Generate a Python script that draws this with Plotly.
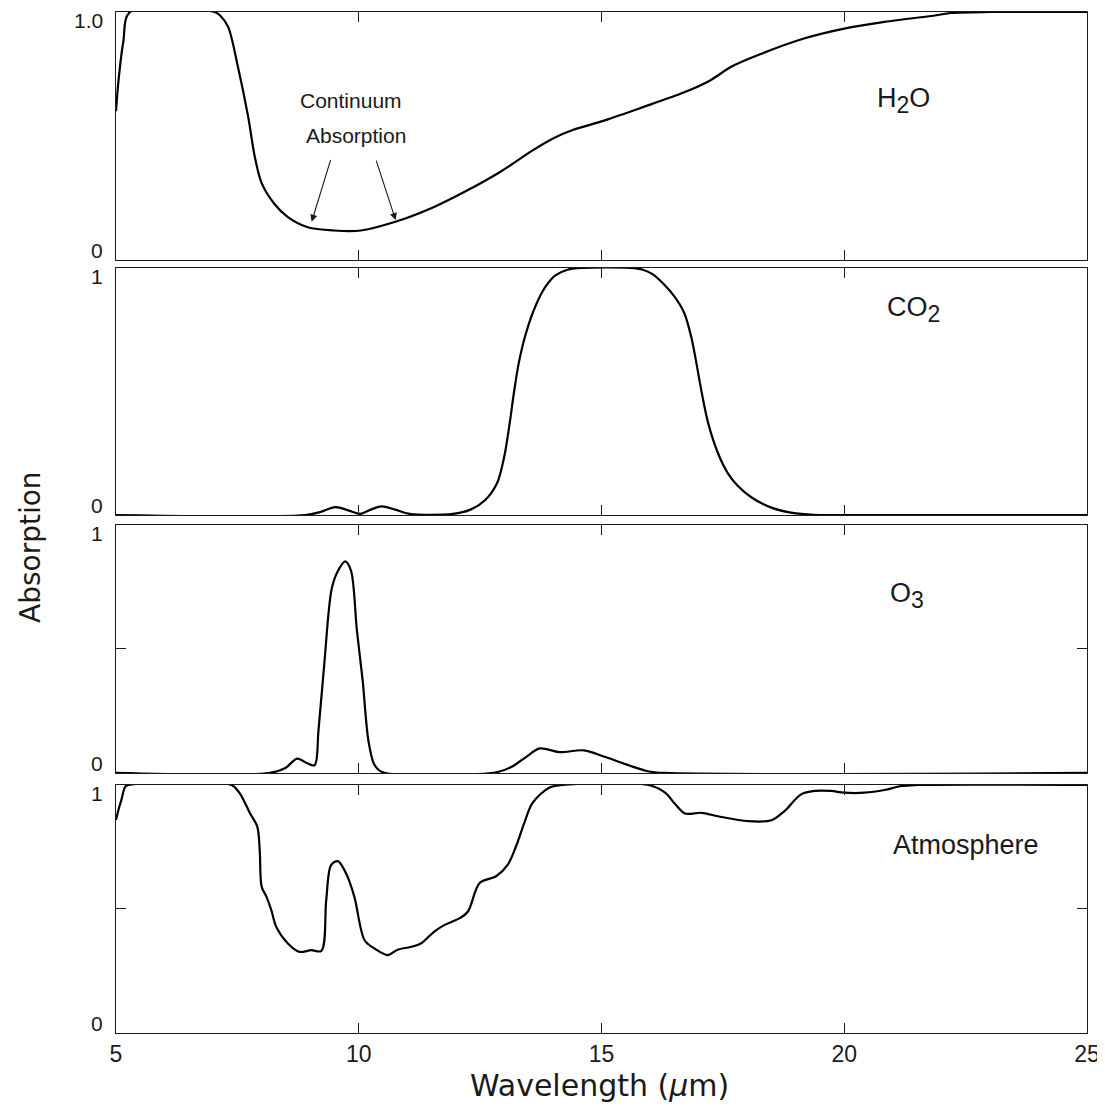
import plotly.graph_objects as go

# ---------------- data ----------------
h2o_x = [5.0, 5.05, 5.15, 5.29, 7.03, 7.15, 7.31, 7.51, 7.72, 7.86, 8.0, 8.26, 8.54, 8.95,
         9.49, 10.04, 10.72, 11.54, 12.23, 12.91, 13.59, 14.0, 14.42, 15.0, 15.79, 16.65,
         17.2, 17.7, 18.31, 19.17, 20.0, 20.83, 21.9, 22.2, 23.0, 25.0]
h2o_y = [0.60, 0.72, 0.88, 1.0, 1.0, 0.985, 0.94, 0.78, 0.58, 0.415, 0.31, 0.227, 0.173, 0.132,
         0.119, 0.119, 0.152, 0.213, 0.28, 0.355, 0.443, 0.49, 0.525, 0.559, 0.612, 0.672,
         0.72, 0.782, 0.833, 0.893, 0.933, 0.96, 0.987, 0.996, 1.0, 1.0]

co2_x = [5.0, 8.9, 9.2, 9.52, 9.8, 10.03, 10.25, 10.47, 10.75, 11.05, 11.94, 12.3, 12.6, 12.85,
         13.0, 13.1, 13.2, 13.3, 13.45, 13.65, 13.85, 14.05, 14.3, 14.6, 15.6, 15.85, 16.05,
         16.28, 16.5, 16.7, 16.85, 16.95, 17.06, 17.2, 17.4, 17.6, 17.8, 18.1, 18.5, 18.9,
         19.3, 19.6, 25.0]
co2_y = [0.0, 0.0, 0.012, 0.032, 0.018, 0.005, 0.022, 0.035, 0.022, 0.005, 0.005, 0.022, 0.06, 0.13,
         0.24, 0.36, 0.5, 0.62, 0.74, 0.85, 0.925, 0.97, 0.993, 1.0, 1.0, 0.993, 0.975,
         0.935, 0.885, 0.82, 0.72, 0.62, 0.5, 0.37, 0.25, 0.17, 0.12, 0.07, 0.03, 0.01,
         0.002, 0.0, 0.0]

o3_x = [5.0, 8.17, 8.49, 8.73, 8.93, 9.09, 9.17, 9.29, 9.44, 9.56, 9.72, 9.84, 9.96, 10.08,
        10.2, 10.32, 10.48, 12.86, 13.17, 13.45, 13.73, 14.13, 14.64, 15.08, 15.56, 15.95, 16.3, 25.0]
o3_y = [0.0, 0.0, 0.02, 0.058, 0.04, 0.031, 0.17, 0.44, 0.74, 0.81, 0.853, 0.816, 0.578, 0.374,
        0.129, 0.034, 0.004, 0.004, 0.027, 0.065, 0.099, 0.084, 0.091, 0.064, 0.031, 0.007, 0.0, 0.0]

atm_x = [5.0, 5.05, 5.11, 5.19, 5.26, 7.38, 7.55, 7.76, 7.91, 7.96, 8.0, 8.1, 8.2, 8.3, 8.54,
         8.78, 9.02, 9.23, 9.33, 9.43, 9.57, 9.74, 9.91, 10.12, 10.32, 10.6, 10.8, 11.07, 11.28,
         11.55, 11.76, 12.08, 12.25, 12.49, 12.83, 13.07, 13.24, 13.41, 13.58, 13.92, 14.19,
         15.97, 16.31, 16.52, 16.72, 17.06, 17.4, 18.02, 18.5, 18.77, 19.11, 19.39, 19.73, 20.0,
         20.42, 20.83, 21.18, 21.5, 25.0]
atm_y = [0.859, 0.899, 0.939, 0.993, 1.0, 1.0, 0.966, 0.886, 0.832, 0.738, 0.59, 0.549, 0.495,
         0.428, 0.361, 0.327, 0.334, 0.331, 0.536, 0.677, 0.693, 0.643, 0.549, 0.374, 0.341,
         0.314, 0.336, 0.347, 0.361, 0.408, 0.435, 0.463, 0.49, 0.605, 0.632, 0.679, 0.753,
         0.847, 0.928, 0.989, 1.0, 1.0, 0.969, 0.922, 0.885, 0.888, 0.874, 0.854, 0.858, 0.895,
         0.962, 0.976, 0.976, 0.969, 0.969, 0.98, 0.996, 1.0, 1.0]

SUB = "<sub><span style='font-size:23px'>{}</span></sub>"
panel_names = ["H" + SUB.format("2") + "O", "CO" + SUB.format("2"),
               "O" + SUB.format("3"), "Atmosphere"]
panel_label_pos = [(21.22, 0.645), (21.42, 0.83), (21.3, 0.714), (22.5, 0.758)]
top_tick_text = ["1.0", "1", "1", "1"]
x_tick_vals = [5, 10, 15, 20, 25]
x_tick_text = ["5", "10", "15", "20", "25"]

# ---------------- figure ----------------
FONT = "Liberation Sans"
TITLE_FONT = "DejaVu Sans"
INK = "#1a1a1a"
fig = go.Figure()

series = [(h2o_x, h2o_y), (co2_x, co2_y), (o3_x, o3_y), (atm_x, atm_y)]
domains = [[0.7571, 1.0], [0.5073, 0.7493], [0.2547, 0.4976], [0.0, 0.2429]]
mid_ticks = [[], [], [0.5], [0.5]]

for i, (xs, ys) in enumerate(series):
    n = "" if i == 0 else str(i + 1)
    fig.add_trace(go.Scatter(x=xs, y=ys, mode="lines",
                             line=dict(color="black", width=2.2, shape="spline", smoothing=0.9),
                             xaxis="x" + n, yaxis="y" + n, showlegend=False,
                             hoverinfo="skip"))
    bottom = (i == 3)
    fig.update_layout(**{
        "xaxis" + n: dict(domain=[0, 1], anchor="y" + n, range=[5, 25],
                          showline=True, mirror="ticks", linecolor=INK, linewidth=1.3,
                          ticks="inside", ticklen=10, tickwidth=1.3, tickcolor=INK,
                          tickvals=x_tick_vals if bottom else [10, 15, 20],
                          ticktext=x_tick_text if bottom else None,
                          showticklabels=bottom, showgrid=False, zeroline=False,
                          ticklabeloverflow="allow",
                          tickfont=dict(family=FONT, size=23, color=INK)),
        "yaxis" + n: dict(domain=domains[i], anchor="x" + n, range=[0, 1],
                          showline=True, mirror="ticks", linecolor=INK, linewidth=1.3,
                          ticks="inside", ticklen=10, tickwidth=1.3, tickcolor=INK,
                          tickvals=mid_ticks[i], showticklabels=False,
                          showgrid=False, zeroline=False),
    })
    yref = "y" + n
    # y tick labels (0 and 1) hugging the box edges
    fig.add_annotation(text=top_tick_text[i], xref="paper", yref=yref, x=0, y=1,
                       xanchor="right", yanchor="top", xshift=-11, yshift=5, showarrow=False,
                       font=dict(family=FONT, size=21, color=INK))
    fig.add_annotation(text="0", xref="paper", yref=yref, x=0, y=0,
                       xanchor="right", yanchor="bottom", xshift=-11, yshift=-4, showarrow=False,
                       font=dict(family=FONT, size=21, color=INK))
    # panel label
    lx, ly = panel_label_pos[i]
    fig.add_annotation(text=panel_names[i], xref="x" + n, yref=yref, x=lx, y=ly,
                       xanchor="center", yanchor="middle", showarrow=False,
                       font=dict(family=FONT, size=27, color=INK))

# Continuum absorption note and arrows (panel 1)
fig.add_annotation(text="Continuum", xref="x", yref="y", x=9.84, y=0.645,
                   showarrow=False, font=dict(family=FONT, size=21, color=INK))
fig.add_annotation(text="Absorption", xref="x", yref="y", x=9.95, y=0.504,
                   showarrow=False, font=dict(family=FONT, size=21, color=INK))
arrows = [((9.43, 0.41), (9.03, 0.154)), ((10.35, 0.407), (10.76, 0.161))]
for (tx, ty), (hx, hy) in arrows:
    fig.add_annotation(text="", xref="x", yref="y", axref="x", ayref="y",
                       x=hx, y=hy, ax=tx, ay=ty, showarrow=True,
                       arrowhead=2, arrowsize=1.3, arrowwidth=1.1, arrowcolor=INK)

# axis titles
fig.add_annotation(text="Absorption", xref="paper", yref="paper", x=-0.0886, y=0.476,
                   textangle=-90, showarrow=False, xanchor="center", yanchor="middle",
                   font=dict(family=TITLE_FONT, size=28, color=INK))
fig.add_annotation(text="Wavelength (<i>μ</i>m)", xref="paper", yref="paper",
                   x=0.498, y=-0.051, showarrow=False, xanchor="center", yanchor="middle",
                   font=dict(family=TITLE_FONT, size=30, color=INK))

# the page body adds an 8px margin, so the figure is offset to compensate
fig.update_layout(width=1097, height=1108,
                  margin=dict(l=108, r=18, t=4, b=83),
                  paper_bgcolor="white", plot_bgcolor="white",
                  font=dict(family=FONT, color=INK))

fig.write_html("out.html")
